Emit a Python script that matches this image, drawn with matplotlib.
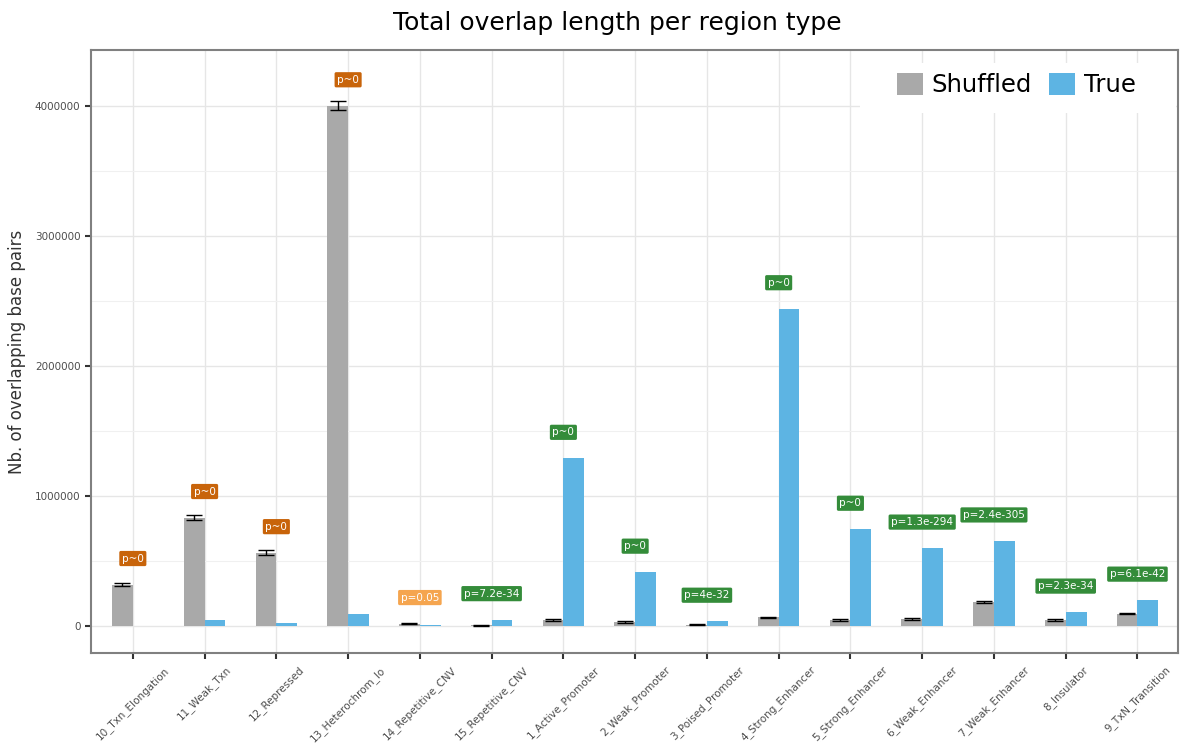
import matplotlib
matplotlib.use("Agg")
import matplotlib.pyplot as plt
from matplotlib.patches import Patch, Rectangle
from matplotlib.ticker import MultipleLocator
import numpy as np

categories = [
    "10_Txn_Elongation", "11_Weak_Txn", "12_Repressed", "13_Heterochrom_lo",
    "14_Repetitive_CNV", "15_Repetitive_CNV", "1_Active_Promoter",
    "2_Weak_Promoter", "3_Poised_Promoter", "4_Strong_Enhancer",
    "5_Strong_Enhancer", "6_Weak_Enhancer", "7_Weak_Enhancer",
    "8_Insulator", "9_TxN_Transition",
]
shuffled = [320000, 835000, 565000, 4000000, 20000, 8000, 48000,
            33000, 10000, 68000, 48000, 57000, 185000, 48000, 97000]
shuffled_err = [14000, 20000, 20000, 35000, 5000, 4000, 5000,
                5000, 4000, 6000, 5000, 6000, 8000, 5000, 6000]
true_vals = [4000, 45000, 25000, 92000, 12000, 50000, 1290000,
             415000, 38000, 2440000, 745000, 600000, 655000, 108000, 200000]
pvalue_labels = ["p~0", "p~0", "p~0", "p~0", "p=0.05", "p=7.2e-34", "p~0",
                 "p~0", "p=4e-32", "p~0", "p~0", "p=1.3e-294", "p=2.4e-305",
                 "p=2.3e-34", "p=6.1e-42"]
label_kind = ["depleted", "depleted", "depleted", "depleted", "weak",
              "enriched", "enriched", "enriched", "enriched", "enriched",
              "enriched", "enriched", "enriched", "enriched", "enriched"]

kind_colors = {"depleted": "#C8640A", "weak": "#F5A54F", "enriched": "#348C3A"}
shuffled_color = "#A9A9A9"
true_color = "#5DB4E3"

fig = plt.figure(figsize=(11.8, 7.44), dpi=100)
ax = fig.add_axes([0.077, 0.122, 0.921, 0.811])

x = np.arange(len(categories))
w = 0.29
ax.bar(x - w / 2, shuffled, width=w, color=shuffled_color, zorder=3)
ax.bar(x + w / 2, true_vals, width=w, color=true_color, zorder=3)
ax.errorbar(x - w / 2, shuffled, yerr=shuffled_err, fmt="none", ecolor="black",
            elinewidth=1.0, capsize=6, capthick=1.0, zorder=4)

for xi, s, t, lab, kind in zip(x, shuffled, true_vals, pvalue_labels, label_kind):
    ax.text(xi, max(s, t) + 200000, lab, ha="center", va="center",
            fontsize=7.5, color="white", zorder=5,
            bbox=dict(boxstyle="round,pad=0.25,rounding_size=0.15",
                      fc=kind_colors[kind], ec="none"))

ax.set_xlim(-0.585, 14.56)
ax.set_ylim(-208000, 4430000)
ax.set_xticks(x)
ax.set_xticklabels(categories, rotation=45, ha="center", va="top",
                   rotation_mode="default", fontsize=7.5, color="#4d4d4d")
ax.yaxis.set_minor_locator(MultipleLocator(500000))
ax.set_yticks([0, 1000000, 2000000, 3000000, 4000000])
ax.set_yticklabels(["0", "1000000", "2000000", "3000000", "4000000"],
                   fontsize=7.5, color="#4d4d4d")
ax.tick_params(axis="both", which="major", length=4, width=1.5, color="#333333")
ax.tick_params(axis="y", which="minor", length=0)
ax.tick_params(axis="x", pad=4)

ax.grid(True, which="major", color="#e6e6e6", linewidth=1.0, zorder=0)
ax.grid(True, which="minor", axis="y", color="#f0f0f0", linewidth=0.8, zorder=0)
ax.set_axisbelow(True)
for sp in ax.spines.values():
    sp.set_color("#808080")
    sp.set_linewidth(1.5)

ax.set_ylabel("Nb. of overlapping base pairs", fontsize=12, color="#333333",
              labelpad=6)
fig.suptitle("Total overlap length per region type", fontsize=18, x=0.523,
             y=0.985)

# white backing box behind the legend
W, H = 1180.0, 744.0
ax.add_patch(Rectangle((860 / W, 1 - 113 / H), 316 / W, 50 / H,
                       transform=fig.transFigure, facecolor="white",
                       edgecolor="none", zorder=2))

handles = [Patch(facecolor=shuffled_color, label="Shuffled"),
           Patch(facecolor=true_color, label="True")]
leg = ax.legend(handles=handles, loc="center left", ncol=2, fontsize=17.5,
                frameon=False, handlelength=1.05, handleheight=1.05,
                handletextpad=0.38, columnspacing=0.7,
                borderpad=0, borderaxespad=0,
                bbox_to_anchor=(897 / W, 1 - 85 / H),
                bbox_transform=fig.transFigure)
leg.set_zorder(6)

fig.savefig("out.png", dpi=100, facecolor="white")
